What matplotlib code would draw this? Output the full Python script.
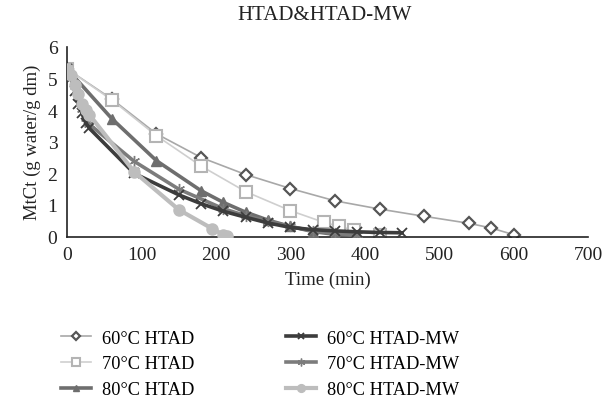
import numpy as np
import matplotlib
matplotlib.use("Agg")
import matplotlib.pyplot as plt

plt.rcParams['font.family'] = ['Liberation Serif', 'DejaVu Serif']

# Данные (время, мин / влагосодержание)
t_60_htad = [0, 60, 120, 180, 240, 300, 360, 420, 480, 540, 570, 600]
m_60_htad = [5.3, 4.35, 3.25, 2.5, 1.96, 1.52, 1.13, 0.87, 0.64, 0.42, 0.27, 0.06]

t_70_htad = [0, 60, 120, 180, 240, 300, 345, 365, 385, 420]
m_70_htad = [5.3, 4.32, 3.19, 2.23, 1.42, 0.82, 0.45, 0.33, 0.2, 0.05]

t_80_htad = [0, 60, 120, 180, 210, 240, 270, 300, 330, 360, 390]
m_80_htad = [5.3, 3.73, 2.4, 1.45, 1.08, 0.77, 0.52, 0.32, 0.16, 0.07, 0.03]

t_60_mw = [0, 5, 10, 15, 20, 25, 30, 90, 150, 180, 210, 240, 270, 300, 330, 360, 390, 420, 450]
m_60_mw = [5.3, 5.0, 4.6, 4.2, 3.9, 3.6, 3.42, 2.0, 1.32, 1.04, 0.8, 0.61, 0.43, 0.29, 0.22, 0.18, 0.15, 0.13, 0.12]

t_70_mw = [0, 5, 10, 15, 20, 25, 30, 90, 150, 210, 240, 270, 300, 330, 360, 390]
m_70_mw = [5.3, 5.05, 4.75, 4.4, 4.05, 3.75, 3.55, 2.38, 1.5, 0.88, 0.66, 0.48, 0.32, 0.18, 0.1, 0.05]

t_80_mw = [0, 5, 10, 15, 20, 25, 30, 90, 150, 195, 210, 215]
m_80_mw = [5.3, 5.1, 4.8, 4.5, 4.2, 4.0, 3.85, 2.05, 0.85, 0.25, 0.06, 0.03]

fig = plt.figure(figsize=(6.05, 4.02), dpi=100)
ax = fig.add_axes([0.111, 0.409, 0.861, 0.472])

# порядок рисования: светлые снизу
ax.plot(t_60_htad, m_60_htad, color='#a8a8a8', lw=1.2, marker='D', ms=6,
        mfc='white', mec='#555555', mew=1.6, label='60°C HTAD', zorder=2)
ax.plot(t_70_htad, m_70_htad, color='#cfcfcf', lw=1.2, marker='s', ms=8,
        mfc='white', mec='#b4b4b4', mew=1.5, label='70°C HTAD', zorder=2)
ax.plot(t_80_htad, m_80_htad, color='#6e6e6e', lw=2.6, marker='^', ms=7,
        mfc='#6e6e6e', mec='#6e6e6e', label='80°C HTAD', zorder=3)
ax.plot(t_60_mw, m_60_mw, color='#3c3c3c', lw=2.6, marker='x', ms=7,
        mew=1.3, mec='#3c3c3c', label='60°C HTAD-MW', zorder=4)
ax.plot(t_70_mw, m_70_mw, color='#7c7c7c', lw=2.6, marker=(6, 2, 0), ms=8,
        mew=1.0, mec='#7c7c7c', label='70°C HTAD-MW', zorder=3)
ax.plot(t_80_mw, m_80_mw, color='#bdbdbd', lw=3.0, marker='o', ms=8,
        mfc='#bdbdbd', mec='#bdbdbd', label='80°C HTAD-MW', zorder=5)

ax.set_xlim(0, 700)
ax.set_ylim(0, 6)
ax.set_xticks(range(0, 701, 100))
ax.set_yticks(range(0, 7))
for s in ['top', 'right']:
    ax.spines[s].set_visible(False)
for s in ['left', 'bottom']:
    ax.spines[s].set_linewidth(1.2)
    ax.spines[s].set_color('#222222')
ax.tick_params(length=0, labelsize=14, pad=7, colors='#222222')

ax.set_xlabel('Time (min)', fontsize=13.5, labelpad=5, color='#222222')
ax.set_ylabel('MtCt (g water/g dm)', fontsize=13.5, labelpad=5, color='#222222')
fig.suptitle('HTAD&HTAD-MW', fontsize=15, y=0.985, x=0.537, color='#222222')

h, l = ax.get_legend_handles_labels()
fig.legend(h, l, loc='upper left', bbox_to_anchor=(0.074, 0.218), ncol=2,
           frameon=False, fontsize=13.2, columnspacing=5.0, handlelength=1.64,
           handletextpad=0.6, labelspacing=0.47, markerscale=0.7)

fig.savefig('out.png', dpi=100)
